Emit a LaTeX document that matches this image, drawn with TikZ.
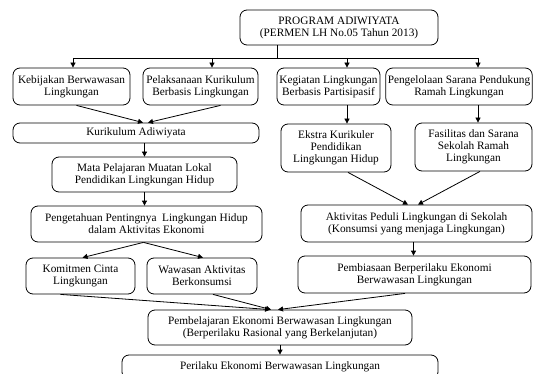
\documentclass[tikz,border=0pt]{standalone}
\usepackage{fontspec}
\setmainfont{Liberation Serif}
\usepackage{tikz}
\usetikzlibrary{positioning}
\usetikzlibrary{arrows.meta}
\tikzstyle{B} = [rectangle,rounded corners=7pt,draw=black,line width=0.8pt,align=center,inner sep=2pt,font=\fontsize{11.3}{12}\selectfont]
\tikzset{>={Triangle[length=5pt,width=5pt]}}

\begin{document}
\begin{tikzpicture}[x=1pt,y=-1pt,line width=0.8pt]
  \clip (0,0) rectangle (535,374);

  \node [B,minimum width=198pt,minimum height=35pt] (prog) at (339,27.5) {PROGRAM ADIWIYATA\\(PERMEN LH No.05 Tahun 2013)};

  \node [B,minimum width=117pt,minimum height=37pt] (keb) at (71.5,86.5) {Kebijakan Berwawasan\\Lingkungan};
  \node [B,minimum width=115pt,minimum height=37pt] (pel) at (200.5,86.5) {Pelaksanaan Kurikulum\\Berbasis Lingkungan};
  \node [B,minimum width=103pt,minimum height=37pt] (keg) at (328.5,86.5) {Kegiatan Lingkungan\\Berbasis Partisipasif};
  \node [B,minimum width=146pt,minimum height=37pt] (pen) at (459,86.5) {Pengelolaan Sarana Pendukung\\Ramah Lingkungan};

  \node [B,minimum width=246pt,minimum height=20pt] (kur) at (136,133) {Kurikulum Adiwiyata};
  \node [B,minimum width=185pt,minimum height=35pt] (mata) at (144.5,174.5) {Mata Pelajaran Muatan Lokal\\Pendidikan Lingkungan Hidup};
  \node [B,minimum width=231pt,minimum height=36pt] (peng) at (146.5,224) {Pengetahuan Pentingnya~ Lingkungan Hidup\\dalam Aktivitas Ekonomi};
  \node [B,minimum width=109pt,minimum height=36pt] (kom) at (80.5,276) {Komitmen Cinta\\Lingkungan};
  \node [B,minimum width=110pt,minimum height=36pt] (waw) at (202,276) {Wawasan Aktivitas\\Berkonsumsi};

  \node [B,minimum width=110pt,minimum height=48pt] (eks) at (336,148) {Ekstra Kurikuler\\Pendidikan\\Lingkungan Hidup};
  \node [B,minimum width=117pt,minimum height=48pt] (fas) at (473.5,147) {Fasilitas dan Sarana\\Sekolah Ramah\\Lingkungan};
  \node [B,minimum width=231pt,minimum height=37pt] (akt) at (416.5,223.5) {Aktivitas Peduli Lingkungan di Sekolah\\(Konsumsi yang menjaga Lingkungan)};
  \node [B,minimum width=233pt,minimum height=37pt] (pemb) at (414.5,274.5) {Pembiasaan Berperilaku Ekonomi\\Berwawasan Lingkungan};

  \node [B,minimum width=264pt,minimum height=35pt] (pbl) at (280,327.5) {Pembelajaran Ekonomi Berwawasan Lingkungan\\(Berperilaku Rasional yang Berkelanjutan)};
  \node [B,minimum width=316pt,minimum height=24pt] (per) at (280,367) {Perilaku Ekonomi Berwawasan Lingkungan};

  % top split
  \coordinate (top) at (277,58);
  \coordinate (j1) at (73,58);
  \coordinate (j2) at (212,58);
  \coordinate (j3) at (347,58);
  \coordinate (j4) at (478,58);
  \draw (prog.south -| top) -- (top);
  \draw (j1) -- (j4);
  \draw [->] (j1) -- (j1 |- keb.north);
  \draw [->] (j2) -- (j2 |- pel.north);
  \draw [->] (j3) -- (j3 |- keg.north);
  \draw [->] (j4) -- (j4 |- pen.north);

  % left branch
  \draw [->] ([xshift=5pt]keb.south) -- ([xshift=7pt]kur.north);
  \draw [->] ([xshift=20pt]pel.south) -- ([xshift=12pt]kur.north);
  \draw [->] (mata.north |- kur.south) -- (mata.north);
  \draw [->] (mata.south) -- (mata.south |- peng.north);
  \draw [->] ([xshift=-3pt]peng.south) -- ([xshift=2pt]kom.north);
  \draw [->] ([xshift=-3pt]peng.south) -- ([xshift=1pt]waw.north);

  % right branch
  \draw [->] (j3 |- keg.south) -- (j3 |- eks.north);
  \draw [->] (j4 |- pen.south) -- (j4 |- fas.north);
  \draw [->] ([xshift=12pt]eks.south) -- ([xshift=-8.5pt]akt.north);
  \draw [->] ([xshift=6.5pt]fas.south) -- ([xshift=1.5pt]akt.north);
  \draw [->] ([xshift=-3pt]akt.south) -- ([xshift=-3pt]akt.south |- pemb.north);

  % bottom
  \draw [->] ([xshift=-20pt]kom.south) -- ([xshift=-10pt]pbl.north);
  \draw [->] ([xshift=11pt]waw.south) -- ([xshift=-9pt]pbl.north);
  \draw [->] ([xshift=-9.5pt]pemb.south) -- ([xshift=-2pt]pbl.north);
  \draw [->] (pbl.south) -- (per.north);

\end{tikzpicture}
\end{document}
